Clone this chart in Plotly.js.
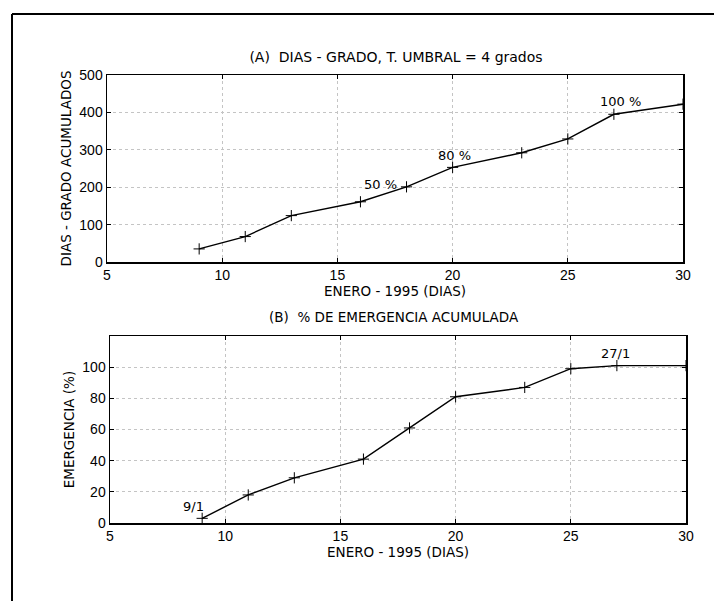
<!DOCTYPE html>
<html>
<head>
<meta charset="utf-8">
<script src="https://cdn.plot.ly/plotly-3.0.1.min.js"></script>
<style>html,body{margin:0;padding:0;background:#fff;}#chart{width:714px;height:601px;}</style>
</head>
<body>
<div id="chart"></div>
<script>
// Data
const dias = [9, 11, 13, 16, 18, 20, 23, 25, 27, 30];
const diasGrado = [35, 68, 124, 161, 201, 253, 292, 329, 395, 422];
const emergencia = [3, 18, 29, 41, 61, 81, 87, 99, 101, 101];

const xTicks = [5, 10, 15, 20, 25, 30];
const yTicksA = [0, 100, 200, 300, 400, 500];
const yTicksB = [0, 20, 40, 60, 80, 100];

const labelsA = [
  {x: 16.85, y: 206, text: '50 %'},
  {x: 20.1, y: 286, text: '80 %'},
  {x: 27.3, y: 429, text: '100 %'}
];
const labelsB = [
  {x: 8.62, y: 10.7, text: '9/1'},
  {x: 26.94, y: 108.6, text: '27/1'}
];

const W = 714, H = 601;
const px = v => v / W;
const py = v => 1 - v / H;

const TICKFONT = 'Liberation Sans, Arial, sans-serif';
const TEXTFONT = 'DejaVu Sans, sans-serif';
const lineStyle = {color: '#000', width: 1.4};
const markerStyle = {symbol: 'cross-thin', size: 8, color: '#000', line: {color: '#000', width: 1}};

const traces = [
  {x: dias, y: diasGrado, xaxis: 'x', yaxis: 'y', mode: 'lines+markers', line: lineStyle, marker: markerStyle, showlegend: false},
  {x: dias, y: emergencia, xaxis: 'x2', yaxis: 'y2', mode: 'lines+markers', line: lineStyle, marker: markerStyle, showlegend: false}
];

function xAxis(domain, anchor) {
  return {
    domain: domain, anchor: anchor, range: [5, 30], tickvals: xTicks,
    showline: true, linecolor: '#000', linewidth: 1.5, mirror: 'ticks',
    ticks: 'inside', ticklen: 4, tickcolor: '#000',
    showgrid: true, gridcolor: '#c4c4c4', griddash: 'dot', gridwidth: 1,
    zeroline: false, tickfont: {family: TICKFONT, size: 14, color: '#000'},
    title: {text: 'ENERO - 1995 (DIAS)', font: {family: TEXTFONT, size: 13.5, color: '#000'}, standoff: 2}
  };
}
function yAxis(domain, anchor, range, ticks, title) {
  return {
    domain: domain, anchor: anchor, range: range, tickvals: ticks,
    showline: true, linecolor: '#000', linewidth: 1.5, mirror: 'ticks',
    ticks: 'inside', ticklen: 4, tickcolor: '#000',
    showgrid: true, gridcolor: '#c4c4c4', griddash: 'dot', gridwidth: 1,
    zeroline: false, tickfont: {family: TICKFONT, size: 14, color: '#000'},
    title: {text: title, font: {family: TEXTFONT, size: 13.5, color: '#000'}, standoff: 4}
  };
}

const annFont = {family: TEXTFONT, size: 13, color: '#000'};
const annotations = [];
labelsA.forEach(l => annotations.push({x: l.x, y: l.y, xref: 'x', yref: 'y', text: l.text, showarrow: false, font: annFont}));
labelsB.forEach(l => annotations.push({x: l.x, y: l.y, xref: 'x2', yref: 'y2', text: l.text, showarrow: false, font: annFont}));
annotations.push({
  x: px(394), y: py(317), xref: 'paper', yref: 'paper', xanchor: 'center', yanchor: 'middle',
  text: '(B)  % DE EMERGENCIA ACUMULADA', showarrow: false, font: {family: TEXTFONT, size: 13.5, color: '#000'}
});

const layout = {
  width: W, height: H,
  margin: {l: 0, r: 0, t: 0, b: 0},
  paper_bgcolor: '#fff', plot_bgcolor: '#fff',
  title: {text: '(A)  DIAS - GRADO, T. UMBRAL = 4 grados', font: {family: TEXTFONT, size: 14, color: '#000'},
          x: px(396), xref: 'paper', xanchor: 'center', y: py(57), yref: 'container', yanchor: 'middle'},
  xaxis: xAxis([px(107), px(683)], 'y'),
  yaxis: yAxis([py(262), py(75)], 'x', [0, 500], yTicksA, 'DIAS - GRADO ACUMULADOS'),
  xaxis2: xAxis([px(110), px(686)], 'y2'),
  yaxis2: yAxis([py(523), py(336)], 'x2', [0, 120], yTicksB, 'EMERGENCIA (%)'),
  annotations: annotations,
  shapes: [
    {type: 'line', xref: 'paper', yref: 'paper', x0: px(12), x1: 1, y0: py(14), y1: py(14), line: {color: '#000', width: 2}},
    {type: 'line', xref: 'paper', yref: 'paper', x0: px(12), x1: px(12), y0: py(14), y1: 0, line: {color: '#000', width: 2}}
  ]
};

Plotly.newPlot('chart', traces, layout, {displayModeBar: false, staticPlot: true});
</script>
</body>
</html>
